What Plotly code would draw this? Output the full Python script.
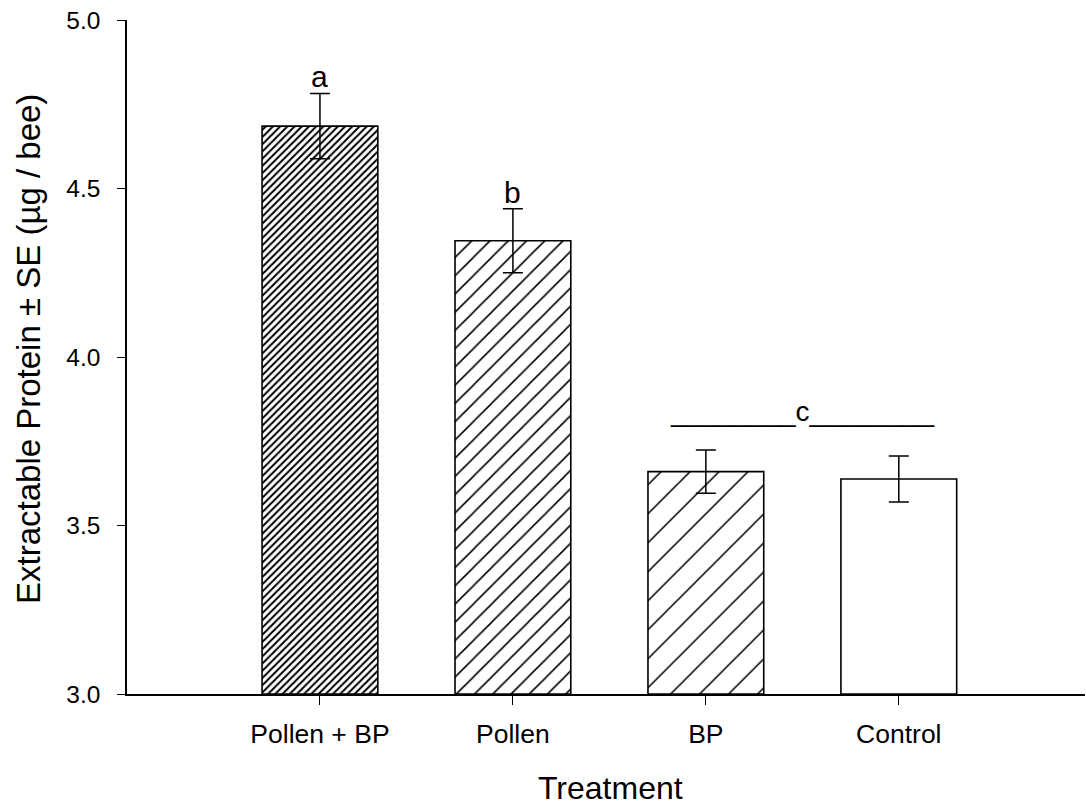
import plotly.graph_objects as go

# Treatment means and standard errors (µg protein per bee)
treatments = ["Pollen + BP", "Pollen", "BP", "Control"]
protein_mean = [4.685, 4.345, 3.660, 3.638]
protein_se = [0.097, 0.095, 0.064, 0.068]
group_letters = ["a", "b", "", ""]
shared_group_label = "________c________"
shared_group_y = 3.785

x_title = "Treatment"
y_title = "Extractable Protein ± SE (µg / bee)"

# Hatch style per bar: (shape, tile size, solidity)
hatch = [("/", 5.1, 0.40), ("/", 12.9, 0.12), ("/", 20.5, 0.075), ("", 8, 0.3)]

FONT = "Liberation Sans, Arial, sans-serif"

fig = go.Figure()
fig.add_trace(go.Bar(
    x=treatments,
    y=[m - 3.0 for m in protein_mean],
    base=3.0,
    width=0.6,
    marker=dict(
        color="white",
        line=dict(color="black", width=1.6),
        pattern=dict(
            shape=[h[0] for h in hatch],
            size=[h[1] for h in hatch],
            solidity=[h[2] for h in hatch],
            fgcolor="black",
            bgcolor="white",
            fillmode="replace",
        ),
    ),
    error_y=dict(type="data", array=protein_se, visible=True,
                 color="black", thickness=1.5, width=10),
    showlegend=False,
    hoverinfo="skip",
))

# Significance letters above the error bars
for name, m, se, letter in zip(treatments, protein_mean, protein_se, group_letters):
    if letter:
        fig.add_annotation(x=name, y=m + se, text=letter, showarrow=False,
                           yanchor="bottom", yshift=-2,
                           font=dict(family=FONT, size=30, color="black"))

# Shared letter for BP and Control
fig.add_annotation(x=2.5, y=shared_group_y, xref="x", yref="y",
                   text=shared_group_label, showarrow=False, yanchor="bottom",
                   font=dict(family=FONT, size=28, color="black"))

# Axis titles
fig.add_annotation(x=0.5, y=0, xref="paper", yref="paper", text=x_title,
                   showarrow=False, xanchor="center", yanchor="middle",
                   xshift=4, yshift=-94,
                   font=dict(family=FONT, size=32, color="black"))
fig.add_annotation(x=0, y=0.5, xref="paper", yref="paper", text=y_title,
                   textangle=-90, showarrow=False, xanchor="center",
                   yanchor="middle", xshift=-99, yshift=8,
                   font=dict(family=FONT, size=33, color="black"))

fig.update_layout(
    width=1086, height=807,
    margin=dict(l=127, r=1, t=20, b=113),
    plot_bgcolor="white", paper_bgcolor="white",
    font=dict(family=FONT, color="black"),
    bargap=0.4,
)
fig.update_xaxes(
    range=[-1, 3.965],
    showline=True, linecolor="black", linewidth=1.5,
    ticks="outside", ticklen=9, tickwidth=1.2, tickcolor="black",
    tickfont=dict(family=FONT, size=26.5),
    ticklabelstandoff=6,
    showgrid=False, zeroline=False,
)
fig.update_yaxes(
    range=[3.0, 5.0],
    tick0=3.0, dtick=0.5, tickformat=".1f",
    showline=True, linecolor="black", linewidth=1.5,
    ticks="outside", ticklen=8, tickwidth=1.2, tickcolor="black",
    tickfont=dict(family=FONT, size=24.5),
    ticklabelstandoff=12,
    showgrid=False, zeroline=False,
)

fig.write_html("out.html")
